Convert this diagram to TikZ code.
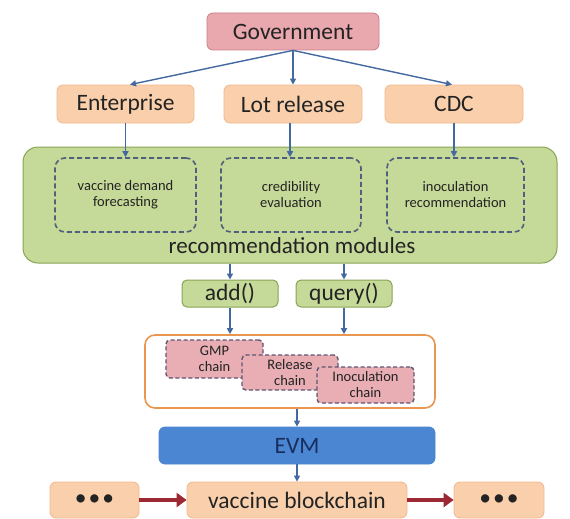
\documentclass[tikz,border=0pt]{standalone}
\usepackage{fontspec}
\setmainfont{Carlito}
\usetikzlibrary{arrows.meta,calc}
\definecolor{govfill}{RGB}{232,168,174}
\definecolor{govdraw}{RGB}{205,125,135}
\definecolor{orfill}{RGB}{250,208,172}
\definecolor{ordraw}{RGB}{242,184,140}
\definecolor{grfill}{RGB}{197,217,152}
\definecolor{grdraw}{RGB}{135,165,85}
\definecolor{dashc}{RGB}{78,96,124}
\definecolor{pkfill}{RGB}{232,174,180}
\definecolor{pkdraw}{RGB}{95,85,115}
\definecolor{contdraw}{RGB}{232,150,80}
\definecolor{evmfill}{RGB}{74,134,210}
\definecolor{evmtext}{RGB}{25,45,95}
\definecolor{arr}{RGB}{68,105,160}
\definecolor{redarr}{RGB}{155,40,50}
\definecolor{txt}{RGB}{35,35,35}
\tikzset{
  box/.style={rectangle, rounded corners=6pt, line width=0.8pt, text=txt, inner sep=0pt, font=\fontsize{23.5}{27}\selectfont},
  govbox/.style={box, fill=govfill, draw=govdraw},
  orbox/.style={box, fill=orfill, draw=ordraw},
  grbox/.style={box, fill=grfill, draw=grdraw, line width=1pt},
  modbox/.style={rectangle, rounded corners=10pt, draw=dashc, dash pattern=on 5pt off 3pt, line width=1.6pt, text=txt, align=center, font=\fontsize{14.5}{16}\selectfont},
  chainbox/.style={rectangle, rounded corners=4pt, fill=pkfill, draw=pkdraw, dash pattern=on 4pt off 2.5pt, line width=1.4pt, text=txt, align=center, font=\fontsize{14.5}{16}\selectfont},
  conn/.style={draw=arr, line width=1.4pt, -{Triangle[length=6pt,width=6pt]}},
  redconn/.style={draw=redarr, line width=4pt, -{Triangle[length=10pt,width=14pt]}},
}
\begin{document}
\begin{tikzpicture}[x=1pt,y=-1pt]
\useasboundingbox[fill=white] (0,0) rectangle (570,519);
% top row
\node[govbox, minimum width=172pt, minimum height=37pt] (gov) at (293,31.5) {Government};
\node[orbox, minimum width=137pt, minimum height=38pt] (ent) at (125.5,104) {Enterprise};
\node[orbox, minimum width=138pt, minimum height=38pt] (lot) at (293,104) {Lot release};
\node[orbox, minimum width=138pt, minimum height=38pt] (cdc) at (454,104) {CDC};
% recommendation modules
\node[grbox, rounded corners=15pt, minimum width=534pt, minimum height=116pt] (green) at (290,205) {};
\node[modbox, minimum width=141pt, minimum height=74pt] (m1) at (125.5,195) {vaccine demand\\forecasting};
\node[modbox, minimum width=140pt, minimum height=74pt] (m2) at (291,195) {credibility\\evaluation};
\node[modbox, minimum width=137pt, minimum height=74pt] (m3) at (455.5,195) {inoculation\\recommendation};
\node[text=txt, font=\fontsize{23}{27}\selectfont, inner sep=0pt] (rm) at (292,246) {recommendation modules};
% add / query
\node[grbox, rounded corners=5pt, minimum width=96pt, minimum height=27pt] (add) at (230,293.5) {add()};
\node[grbox, rounded corners=5pt, minimum width=96pt, minimum height=27pt] (query) at (344,293.5) {query()};
% chains container
\node[rectangle, rounded corners=10pt, draw=contdraw, fill=white, line width=1.6pt, minimum width=290pt, minimum height=73pt] (cont) at (290,371.5) {};
\node[chainbox, minimum width=97pt, minimum height=38pt] (gmp) at (214.5,359) {GMP\\chain};
\node[chainbox, minimum width=96pt, minimum height=35pt] (rel) at (290,372.5) {Release\\chain};
\node[chainbox, minimum width=97pt, minimum height=36pt] (ino) at (365.5,385) {Inoculation\\chain};
% EVM and blockchain
\node[box, fill=evmfill, draw=evmfill, text=evmtext, minimum width=276pt, minimum height=37pt] (evm) at (297,445.5) {EVM};
\node[orbox, minimum width=89pt, minimum height=36pt] (ldots) at (94.5,500) {\textbullet\hspace{2pt}\textbullet\hspace{2pt}\textbullet};
\node[orbox, minimum width=220pt, minimum height=36pt] (vb) at (297,500) {vaccine blockchain};
\node[orbox, minimum width=90pt, minimum height=36pt] (rdots) at (499,500) {\textbullet\hspace{2pt}\textbullet\hspace{2pt}\textbullet};
% connectors
\draw[conn] (gov.south) -- ($(ent.north)+(4.5,0)$);
\draw[conn] (gov.south) -- (gov.south |- lot.north);
\draw[conn] (gov.south) -- ($(cdc.north)+(-2,0)$);
\draw[conn] (ent.south) -- (ent.south |- m1.north);
\draw[conn] ($(lot.south)+(-3,0)$) -- ($(lot.south |- m2.north)+(-3,0)$);
\draw[conn] (cdc.south) -- (cdc.south |- m3.north);
\draw[conn] (green.south -| add.north) -- (add.north);
\draw[conn] (green.south -| query.north) -- (query.north);
\draw[conn] (add.south) -- (add.south |- cont.north);
\draw[conn] (query.south) -- (query.south |- cont.north);
\draw[conn] (cont.south -| evm.north) -- (evm.north);
\draw[conn] (evm.south) -- (vb.north);
\draw[redconn] (ldots.east) -- (vb.west);
\draw[redconn] (vb.east) -- (rdots.west);
\end{tikzpicture}
\end{document}
